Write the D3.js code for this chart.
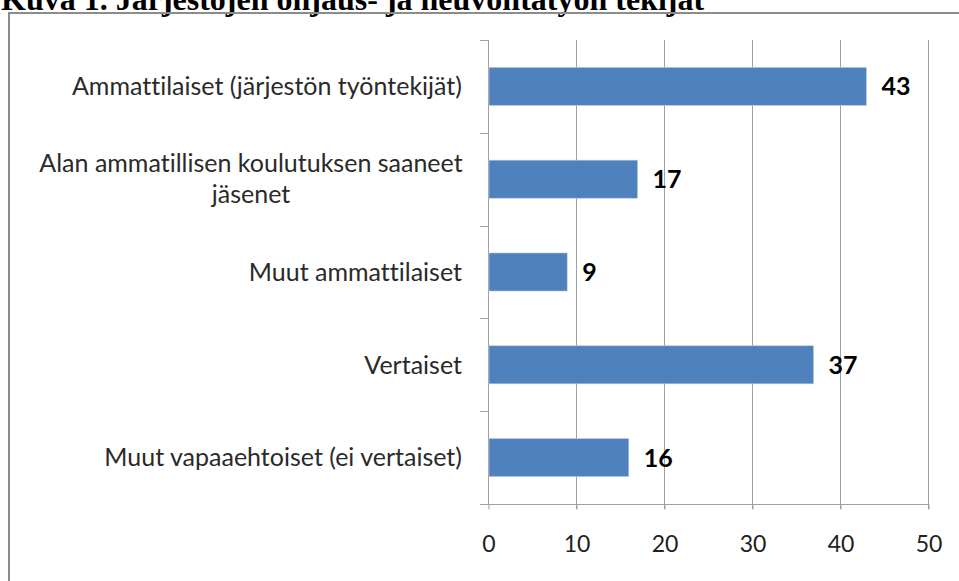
<!DOCTYPE html>
<html>
<head>
<meta charset="utf-8">
<script src="https://cdn.jsdelivr.net/npm/d3@7"></script>
<style>
  body { margin: 0; background: #fff; }
  svg { display: block; }
  text { font-variant-ligatures: none; }
</style>
</head>
<body>
<svg width="959" height="581"></svg>
<script>
const categories = [
  ["Ammattilaiset (järjestön työntekijät)"],
  ["Alan ammatillisen koulutuksen saaneet", "jäsenet"],
  ["Muut ammattilaiset"],
  ["Vertaiset"],
  ["Muut vapaaehtoiset (ei vertaiset)"]
];
const values = [43, 17, 9, 37, 16];
const xTicks = [0, 10, 20, 30, 40, 50];
const title = "Kuva 1. Järjestöjen ohjaus- ja neuvontatyön tekijät";

const svg = d3.select("svg");

// title, cut at the top like in the scan
svg.append("text")
  .attr("x", 1)
  .attr("y", 10)
  .attr("font-family", "Liberation Serif")
  .attr("font-weight", "bold")
  .attr("font-size", 32)
  .attr("fill", "#000")
  .text(title);

// chart frame
svg.append("path")
  .attr("d", "M9,600 L9,13 L970,13")
  .attr("fill", "none")
  .attr("stroke", "#8c8c8c")
  .attr("stroke-width", 2);

const plotLeft = 488, plotRight = 928, plotTop = 40, plotBottom = 504;

const x = d3.scaleLinear().domain([0, 50]).range([plotLeft, plotRight]);
const y = d3.scaleBand().domain(d3.range(values.length)).range([plotTop, plotBottom]).paddingInner(0.59).paddingOuter(0.295);

const g = svg.append("g");

// vertical grid lines
g.selectAll("line.grid")
  .data(xTicks.slice(1))
  .enter()
  .append("line")
    .attr("class", "grid")
    .attr("x1", d => x(d) + 0.5)
    .attr("x2", d => x(d) + 0.5)
    .attr("y1", plotTop)
    .attr("y2", plotBottom + 5)
    .attr("stroke", "#a0a0a0");

// x axis
const xAxis = g.append("g")
  .attr("transform", `translate(0.5,${plotBottom + 0.5})`)
  .call(d3.axisBottom(x).tickValues(xTicks).tickSize(5).tickSizeOuter(0).tickPadding(26));
xAxis.select(".domain").attr("stroke", "#a0a0a0").attr("d", `M${plotLeft - 8 - 0.5},0H${plotRight}`);
xAxis.selectAll(".tick line").attr("stroke", "#a0a0a0");
xAxis.selectAll("text")
  .attr("font-family", "Lato")
  .attr("font-size", 23)
  .attr("fill", "#222");

// category axis line + ticks between bands
g.append("line")
  .attr("x1", plotLeft + 0.5).attr("x2", plotLeft + 0.5)
  .attr("y1", plotTop).attr("y2", plotBottom)
  .attr("stroke", "#a0a0a0");
const bandEdges = d3.range(values.length).map(i => plotTop + i * (plotBottom - plotTop) / values.length);
g.selectAll("line.ytick")
  .data(bandEdges)
  .enter()
  .append("line")
    .attr("x1", plotLeft - 8).attr("x2", plotLeft)
    .attr("y1", d => Math.round(d) + 0.5)
    .attr("y2", d => Math.round(d) + 0.5)
    .attr("stroke", "#a0a0a0");

// bars
g.selectAll("rect.bar")
  .data(values)
  .enter()
  .append("rect")
    .attr("class", "bar")
    .attr("x", plotLeft + 1)
    .attr("y", (d, i) => y(i))
    .attr("width", d => x(d) - plotLeft - 1)
    .attr("height", y.bandwidth())
    .attr("fill", "#4f81bd")
    .attr("stroke", "#b9cde5")
    .attr("stroke-width", 0.6);

// value labels
g.selectAll("text.val")
  .data(values)
  .enter()
  .append("text")
    .attr("class", "val")
    .attr("x", d => x(d) + 15)
    .attr("y", (d, i) => y(i) + y.bandwidth() / 2)
    .attr("dy", "0.36em")
    .attr("font-family", "Lato")
    .attr("font-weight", "bold")
    .attr("font-size", 25)
    .attr("fill", "#000")
    .text(d => d);

// category labels
const bandMid = i => plotTop + (i + 0.5) * (plotBottom - plotTop) / values.length;
categories.forEach((lines, i) => {
  const t = g.append("text")
    .attr("font-family", "Lato")
    .attr("font-size", 25)
    .attr("fill", "#2a2a2a");
  if (lines.length === 1) {
    t.attr("x", 462).attr("y", bandMid(i)).attr("dy", "0.35em")
      .attr("text-anchor", "end").text(lines[0]);
  } else {
    const lh = 31;
    lines.forEach((s, k) => {
      t.append("tspan")
        .attr("x", 251)
        .attr("y", bandMid(i) + (k - (lines.length - 1) / 2) * lh)
        .attr("dy", "0.35em")
        .attr("text-anchor", "middle")
        .text(s);
    });
  }
});
</script>
</body>
</html>
